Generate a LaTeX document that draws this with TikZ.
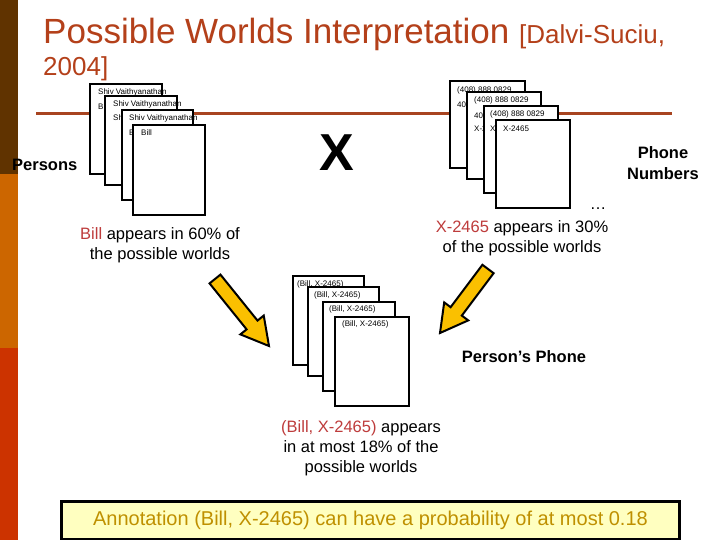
\documentclass[tikz,border=0pt]{standalone}
\usepackage{fontspec}
\setmainfont{Liberation Sans}
\usetikzlibrary{calc}
\definecolor{barA}{RGB}{96,51,0}
\definecolor{barB}{RGB}{204,102,0}
\definecolor{barC}{RGB}{204,51,0}
\definecolor{titlecol}{RGB}{180,64,26}
\definecolor{rulecol}{RGB}{168,68,32}
\definecolor{hilite}{RGB}{190,60,60}
\definecolor{gold}{RGB}{250,192,0}
\definecolor{notefill}{RGB}{255,255,192}
\definecolor{notetext}{RGB}{191,144,0}
\newcommand\mkarrow[3]{% tail, tip, base
  \draw[blockarr] ($(#1)!7pt!90:(#2)$) -- ($(#3)!7pt!90:(#2)$) -- ($(#3)!15pt!90:(#2)$) -- (#2)
    -- ($(#3)!15pt!-90:(#2)$) -- ($(#3)!7pt!-90:(#2)$) -- ($(#1)!7pt!-90:(#2)$) -- cycle;}
\begin{document}
\begin{tikzpicture}[x=1pt,y=-1pt,
 card/.style={draw=black, line width=2pt, fill=white, anchor=north west, inner sep=0pt},
 cardtext/.style={font=\fontsize{8}{9}\selectfont, anchor=west, inner sep=0pt},
 lbl/.style={font=\fontsize{16.5}{20}\selectfont, align=center, inner sep=0pt},
 boldlbl/.style={font=\fontsize{16.5}{21}\selectfont\bfseries, align=center, inner sep=0pt},
 blockarr/.style={draw=black, line width=2pt, fill=gold, line join=miter}]
\useasboundingbox (0,0) rectangle (720,540);
\fill[white] (0,0) rectangle (720,540);
% side bars
\fill[barA] (0,0) rectangle (18,174);
\fill[barB] (0,174) rectangle (18,348);
\fill[barC] (0,348) rectangle (18,540);
% title
\node[anchor=base west, inner sep=0pt, text=titlecol] (title) at (43,44)
  {\fontsize{35}{40}\selectfont Possible Worlds Interpretation \fontsize{26}{30}\selectfont[Dalvi-Suciu,};
\node[anchor=base west, inner sep=0pt, text=titlecol] (title2) at (43,76)
  {\fontsize{26}{30}\selectfont 2004]};
% rule
\coordinate (rl) at (36,114);
\coordinate (rr) at (672,114);
\draw[rulecol, line width=3pt] (rl) -- (rr);
% persons stack
\node[card, minimum width=72, minimum height=90] (p1) at (89,83) {};
\node[cardtext] at ($(p1.north west)+(9,9)$) {Shiv Vaithyanathan};
\node[cardtext] at ($(p1.north west)+(9,24)$) {Bill};
\node[card, minimum width=72, minimum height=89] (p2) at (104,95) {};
\node[cardtext] at ($(p2.north west)+(9,9)$) {Shiv Vaithyanathan};
\node[cardtext] at ($(p2.north west)+(9,23)$) {Shiv Vaithyanathan};
\node[card, minimum width=71, minimum height=90] (p3) at (121,109) {};
\node[cardtext] at ($(p3.north west)+(8,9)$) {Shiv Vaithyanathan};
\node[cardtext] at ($(p3.north west)+(8,24)$) {Bill};
\node[card, minimum width=72, minimum height=90] (p4) at (132,124) {};
\node[cardtext] at ($(p4.north west)+(9,9)$) {Bill};
% phone stack
\node[card, minimum width=75, minimum height=87] (q1) at (449,80) {};
\node[cardtext] at ($(q1.north west)+(8,10)$) {(408) 888 0829};
\node[cardtext] at ($(q1.north west)+(8,25)$) {408 888 0829};
\node[card, minimum width=74, minimum height=87] (q2) at (466,91) {};
\node[cardtext] at ($(q2.north west)+(8,9)$) {(408) 888 0829};
\node[cardtext] at ($(q2.north west)+(8,25)$) {408 888 0829};
\node[cardtext] at ($(q2.north west)+(8,38)$) {X-2465};
\node[card, minimum width=74, minimum height=87] (q3) at (483,105) {};
\node[cardtext] at ($(q3.north west)+(7,9)$) {(408) 888 0829};
\node[cardtext] at ($(q3.north west)+(7,24)$) {X-2465};
\node[card, minimum width=74, minimum height=88] (q4) at (495,119) {};
\node[cardtext] at ($(q4.north west)+(8,10)$) {X-2465};
% cross
\node[font=\fontsize{52}{56}\selectfont\bfseries, inner sep=0pt] (cross) at (337,153) {X};
% side labels
\node[boldlbl, anchor=west] (persons) at (12,165) {Persons};
\node[boldlbl] (phones) at (663,163) {Phone\\Numbers};
\node[lbl] (dots) at (598,209) {\dots};
\node[lbl] (billtxt) at (160,245) {\textcolor{hilite}{Bill} appears in 60\% of\\the possible worlds};
\node[lbl] (xtxt) at (522,238) {\textcolor{hilite}{X-2465} appears in 30\%\\of the possible worlds};
% joined stack
\node[card, minimum width=71, minimum height=89] (m1) at (292,275) {};
\node[cardtext] at ($(m1.north west)+(5,9)$) {(Bill, X-2465)};
\node[card, minimum width=71, minimum height=89] (m2) at (307,286) {};
\node[cardtext] at ($(m2.north west)+(7,9)$) {(Bill, X-2465)};
\node[card, minimum width=72, minimum height=89] (m3) at (322,301) {};
\node[cardtext] at ($(m3.north west)+(7,8)$) {(Bill, X-2465)};
\node[card, minimum width=74, minimum height=89] (m4) at (334,316) {};
\node[cardtext] at ($(m4.north west)+(8,8)$) {(Bill, X-2465)};
% arrows
\coordinate (lt) at (215,279);
\coordinate (lp) at (269,346);
\coordinate (lb) at ($(lp)!27pt!(lt)$);
\mkarrow{lt}{lp}{lb}
\coordinate (rt) at (488,269);
\coordinate (rp) at (440,333);
\coordinate (rb) at ($(rp)!27pt!(rt)$);
\mkarrow{rt}{rp}{rb}
% lower labels
\node[boldlbl] (pp) at (524,357) {Person’s Phone};
\node[lbl] (jointxt) at (361,448) {\textcolor{hilite}{(Bill, X-2465)} appears\\in at most 18\% of the\\possible worlds};
% note box
\node[draw=black, line width=3pt, fill=notefill, anchor=north west, minimum width=618, minimum height=38,
  inner sep=0pt, text=notetext, font=\fontsize{20}{24}\selectfont] (note) at (60,500)
  {Annotation (Bill, X-2465) can have a probability of at most 0.18};
\end{tikzpicture}
\end{document}
